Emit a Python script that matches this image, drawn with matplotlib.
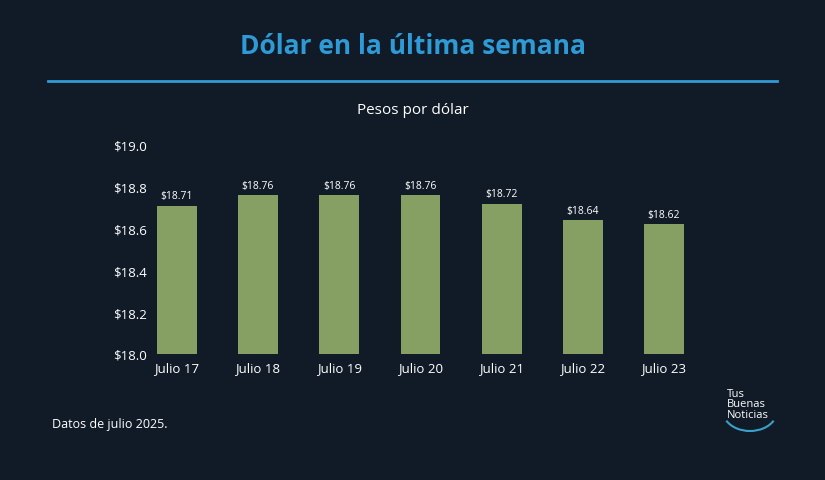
import matplotlib.pyplot as plt
from matplotlib.patches import Arc

dias = ["Julio 17", "Julio 18", "Julio 19", "Julio 20", "Julio 21", "Julio 22", "Julio 23"]
valores = [18.71, 18.76, 18.76, 18.76, 18.72, 18.64, 18.62]
yticks = [18.0, 18.2, 18.4, 18.6, 18.8, 19.0]

bg = "#111b27"
plt.rcParams["font.family"] = "Open Sans"
fig = plt.figure(figsize=(8.25, 4.81), dpi=100, facecolor=bg)
ax = fig.add_axes([150/825, 1-355/481, 540/825, 209/481], facecolor=bg)

x = range(len(dias))
ax.bar(x, [v - 18.0 for v in valores], bottom=18.0, width=0.49, color="#86a063")
for i, v in zip(x, valores):
    ax.text(i, v + 0.02, f"${v:.2f}", ha="center", va="bottom", color="white", fontsize=7.5)

ax.set_xlim(-0.33, 6.32)
ax.set_ylim(18.0, 19.0)
ax.set_xticks(list(x))
ax.set_xticklabels(dias, color="white", fontsize=9.5)
ax.set_yticks(yticks)
ax.set_yticklabels([f"${t:.1f}" for t in yticks], color="white", fontsize=9.5)
ax.tick_params(axis="y", length=0, pad=2)
ax.tick_params(axis="x", length=0, pad=5)
for s in ax.spines.values():
    s.set_visible(False)

fig.text(0.5, 1-47/481, "Dólar en la última semana", ha="center", va="center",
         color="#2e9ad6", fontsize=19, fontweight="bold")
fig.add_artist(plt.Line2D([48/825, 777/825], [1-82/481]*2, color="#2e9ad6", lw=2))
fig.text(0.5, 1-111/481, "Pesos por dólar", ha="center", va="center", color="white", fontsize=11)
fig.text(52/825, 1-425/481, "Datos de julio 2025.", ha="left", va="center", color="white", fontsize=9)
fig.text(727/825, 1-405/481, "Tus\nBuenas\nNoticias", ha="left", va="center", color="white",
         fontsize=8, linespacing=0.9)
fig.add_artist(Arc((750/825, 1-412/481), 54/825, 40/481, theta1=215, theta2=325,
                   color="#3aa0c8", lw=1.5, transform=fig.transFigure))

fig.savefig("out.png", dpi=100, facecolor=bg)
